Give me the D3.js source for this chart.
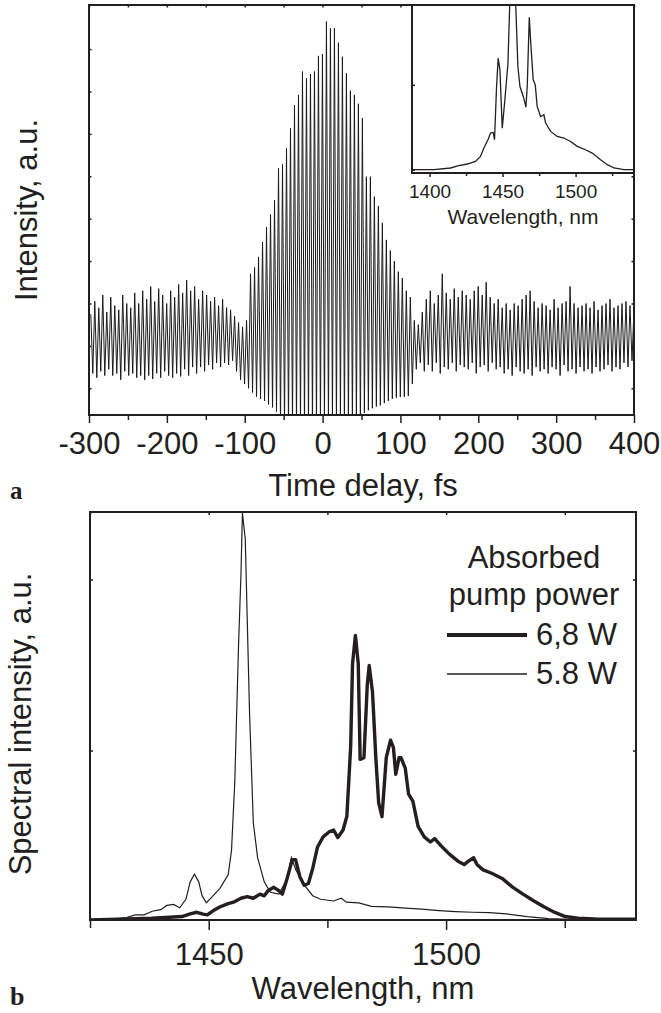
<!DOCTYPE html>
<html>
<head>
<meta charset="utf-8">
<script src="https://cdn.jsdelivr.net/npm/d3@7"></script>
<style>
  body { margin: 0; background: #fff; }
  text { font-family: "Liberation Sans", Arial, sans-serif; fill: #231f20; }
</style>
</head>
<body>
<div class="chart"></div>
<script>
// ---- panel a: interferometric autocorrelation (one max + one min per fringe) ----
var delayStart = -297.7;   // fs, first fringe maximum
var delayStep = 5.13;      // fs, fringe period
var fringeMax = [
  1.75, 2.05, 1.9, 2.2, 1.8, 2.15, 1.95, 1.85, 2.2, 2.0,
  1.9, 2.25, 2.0, 2.3, 2.1, 2.4, 2.05, 2.35, 2.2, 2.0,
  2.3, 2.15, 2.45, 2.25, 2.55, 2.3, 2.4, 2.1, 2.3, 2.2,
  2.05, 2.15, 1.95, 2.1, 1.9, 1.85, 1.7, 1.55, 1.45, 1.6,
  2.7, 2.85, 3.1, 3.45, 3.8, 4.1, 4.44, 5.19, 5.28, 5.66,
  6.13, 6.68, 6.92, 7.47, 7.31, 7.41, 7.47, 7.84, 7.88, 8.65,
  8.49, 8.49, 8.15, 7.82, 7.43, 7.02, 6.92, 6.71, 6.37, 4.99,
  4.99, 4.52, 4.3, 3.9, 3.5, 3.25, 3.0, 2.75, 2.6, 2.3,
  2.15, 1.6, 1.5, 1.8, 2.1, 2.3, 2.0, 2.2, 2.7, 2.25,
  2.1, 2.35, 2.15, 2.3, 2.2, 2.1, 2.3, 2.4, 2.2, 2.5,
  2.15, 2.0, 2.1, 1.9, 2.0, 1.85, 2.0, 1.95, 2.1, 2.2,
  2.3, 2.05, 1.9, 2.0, 1.95, 1.85, 2.1, 1.9, 2.0, 2.05,
  2.4, 2.0, 1.9, 1.95, 2.0, 1.9, 2.05, 1.85, 1.95, 2.0,
  2.1, 1.9, 1.95, 2.0, 2.05, 1.95, 1.85
];
var fringeMin = [
  0.35, 0.25, 0.4, 0.3, 0.45, 0.3, 0.35, 0.2, 0.4, 0.3,
  0.35, 0.25, 0.3, 0.2, 0.3, 0.22, 0.35, 0.25, 0.4, 0.3,
  0.25, 0.35, 0.28, 0.45, 0.3, 0.5, 0.35, 0.5, 0.4, 0.55,
  0.45, 0.6, 0.5, 0.6, 0.55, 0.65, 0.4, 0.2, 0.1, 0.0,
  -0.1, -0.2, -0.25, -0.3, -0.38, -0.45, -0.55, -0.9, -0.9, -0.9,
  -0.9, -0.9, -0.9, -0.9, -0.9, -0.9, -0.9, -0.9, -0.9, -0.9,
  -0.9, -0.9, -0.9, -0.9, -0.9, -0.9, -0.9, -0.9, -0.58, -0.52,
  -0.47, -0.43, -0.4, -0.35, -0.3, -0.25, -0.22, -0.2, -0.2, -0.18,
  0.1, 0.45, 0.6, 0.4, 0.55, 0.4, 0.6, 0.35, 0.5, 0.45,
  0.6, 0.4, 0.55, 0.5, 0.45, 0.6, 0.35, 0.5, 0.55, 0.4,
  0.6, 0.45, 0.5, 0.35, 0.45, 0.3, 0.5, 0.4, 0.35, 0.45,
  0.3, 0.5, 0.4, 0.45, 0.35, 0.5, 0.45, 0.3, 0.55, 0.4,
  0.45, 0.35, 0.5, 0.4, 0.45, 0.35, 0.5, 0.4, 0.45, 0.55,
  0.4, 0.5, 0.45, 0.6, 0.5, 0.65, 0.55
];
var delayTicks = [-300, -200, -100, 0, 100, 200, 300, 400];
var delayMinor = [-250, -150, -50, 50, 150, 250, 350];

// ---- inset: spectrum for panel a ----
var insetWl = [1388, 1403, 1414.4, 1420, 1425.8, 1431.5, 1434.9, 1437.2, 1440, 1441.8,
  1443.6, 1444.5, 1445.9, 1447, 1448.2, 1449.8, 1451.6, 1453.7, 1455, 1456,
  1458, 1458.9, 1460.5, 1461.9, 1464.2, 1466, 1466.9, 1468.3, 1469.6, 1471,
  1472.4, 1473.7, 1476, 1478.3, 1479.5, 1482.9, 1487.4, 1492, 1496.6, 1501.1,
  1506.8, 1511.4, 1517.1, 1521.7, 1526.3, 1533.1, 1540];
var insetI = [0.0, 0.0, 0.02, 0.047, 0.067, 0.098, 0.157, 0.255, 0.353, 0.431,
  0.439, 0.353, 0.98, 1.314, 1.176, 0.49, 0.824, 1.255, 2.0, 2.3,
  2.3, 2.0, 1.216, 0.98, 0.863, 0.737, 0.98, 1.796, 1.412, 1.059,
  1.0, 0.745, 0.627, 0.647, 0.549, 0.451, 0.392, 0.373, 0.333, 0.275,
  0.235, 0.196, 0.118, 0.059, 0.02, 0.0, 0.0];
var insetTicks = [1400, 1450, 1500];
var insetMinor = [1425, 1475, 1525];

// ---- panel b: spectra at two pump powers ----
var lowWl = [1425, 1429.3, 1432.8, 1434.6, 1436.4, 1438.1, 1439.9, 1441.2, 1442.6, 1443.9,
  1445.2, 1446.1, 1447, 1447.9, 1448.6, 1449.5, 1450.6, 1452.3, 1454.1, 1454.8,
  1455.5, 1456.3, 1456.8, 1457.1, 1457.7, 1458.6, 1459.4, 1460.3, 1461.7, 1463,
  1464.8, 1466.5, 1467.4, 1468.4, 1470.1, 1471.9, 1473.6, 1476.3, 1477.9, 1479,
  1481.6, 1484.3, 1487.8, 1491.4, 1494.9, 1498.5, 1502, 1505.6, 1509.1, 1512.7,
  1517.1, 1521.6, 1526, 1530.4, 1540];
var lowI = [0.01, 0.01, 0.025, 0.039, 0.039, 0.06, 0.069, 0.094, 0.1, 0.08,
  0.13, 0.232, 0.277, 0.232, 0.151, 0.11, 0.141, 0.191, 0.273, 0.414,
  0.819, 1.629, 2.034, 2.39, 2.237, 1.224, 0.576, 0.374, 0.232, 0.171,
  0.161, 0.25, 0.374, 0.3, 0.214, 0.151, 0.13, 0.12, 0.136, 0.113,
  0.109, 0.089, 0.085, 0.078, 0.072, 0.064, 0.058, 0.054, 0.052, 0.045,
  0.029, 0.017, 0.013, 0.011, 0.009];
var highWl = [1425, 1432.8, 1438.1, 1441.7, 1444.4, 1446.1, 1447.5, 1448.8, 1449.7, 1451,
  1452.3, 1454.1, 1455.4, 1456.8, 1458.1, 1459.4, 1460.8, 1461.7, 1462.5, 1463.7,
  1464.8, 1465.5, 1466.5, 1467.6, 1468.3, 1469.2, 1470.1, 1471, 1471.9, 1472.9,
  1474.1, 1475.4, 1476.3, 1477.2, 1478.3, 1479.1, 1479.9, 1480.3, 1480.9, 1481.5,
  1481.9, 1482.7, 1483.4, 1483.8, 1484.5, 1485.2, 1485.8, 1486.5, 1487.4, 1488.3,
  1488.9, 1489.4, 1490.1, 1490.5, 1491.4, 1492.1, 1493, 1494.1, 1495.4, 1496.7,
  1497.6, 1498.9, 1500.7, 1502.5, 1503.8, 1504.7, 1505.8, 1506.5, 1507.8, 1509.6,
  1511.8, 1514, 1516.2, 1518.5, 1520.7, 1522.9, 1525.1, 1527.8, 1532.2, 1540];
var highI = [0.009, 0.015, 0.019, 0.025, 0.029, 0.045, 0.054, 0.043, 0.039, 0.064,
  0.085, 0.105, 0.115, 0.136, 0.146, 0.136, 0.16, 0.15, 0.18, 0.2,
  0.18, 0.16, 0.25, 0.362, 0.362, 0.262, 0.212, 0.222, 0.31, 0.434,
  0.495, 0.525, 0.535, 0.491, 0.535, 0.616, 1.021, 1.508, 1.673, 1.508,
  0.948, 0.958, 1.384, 1.497, 1.343, 0.958, 0.694, 0.613, 0.958, 1.06,
  1.019, 0.861, 0.958, 0.958, 0.897, 0.745, 0.704, 0.556, 0.495, 0.465,
  0.485, 0.444, 0.394, 0.353, 0.333, 0.353, 0.373, 0.333, 0.302, 0.282,
  0.252, 0.201, 0.16, 0.12, 0.085, 0.053, 0.029, 0.019, 0.013, 0.013];
var wlTicks = [1450, 1500];
var wlMinor = [1425, 1475, 1525];
var legendLabels = ['6,8 W', '5.8 W'];

var ink = '#231f20';

var svg = d3.select('.chart').append('svg')
    .attr('width', 661)
    .attr('height', 1013)
    .style('background', '#fff');

// frames in page pixels
var frameA = {left: 89, top: 5, right: 634, bottom: 415};
var frameI = {left: 412, top: 5, right: 634, bottom: 173};
var frameB = {left: 90, top: 512, right: 636, bottom: 920};

var x = d3.scaleLinear().domain([-300, 400]).range([frameA.left, frameA.right]);
var y = d3.scaleLinear().domain([-0.63, 9.04]).range([frameA.bottom, frameA.top]);
var xi = d3.scaleLinear().domain([1388, 1540]).range([frameI.left, frameI.right]);
var yi = d3.scaleLinear().domain([-0.039, 1.941]).range([frameI.bottom, frameI.top]);
var xb = d3.scaleLinear().domain([1425, 1540]).range([frameB.left, frameB.right]);
var yb = d3.scaleLinear().domain([0.0088, 2.395]).range([frameB.bottom, frameB.top]);

function clip(id, f) {
  svg.append('clipPath').attr('id', id)
    .append('rect')
      .attr('x', f.left).attr('y', f.top)
      .attr('width', f.right - f.left).attr('height', f.bottom - f.top);
  return 'url(#' + id + ')';
}

function frame(f, fill) {
  svg.append('rect')
    .attr('x', f.left).attr('y', f.top)
    .attr('width', f.right - f.left).attr('height', f.bottom - f.top)
    .attr('fill', fill || 'none')
    .attr('stroke', ink)
    .attr('stroke-width', 2);
}

function addAxis(axis, tx, ty, size) {
  var g = svg.append('g')
      .attr('transform', `translate(${tx},${ty})`)
      .call(axis);
  g.select('.domain').remove();
  g.attr('font-family', null).attr('font-size', null);
  g.selectAll('line').attr('stroke', ink).attr('stroke-width', 1.5);
  g.selectAll('text').style('font-size', (size || 31) + 'px').attr('fill', ink);
  return g;
}

/*
 * Panel a
 */
var trace = [];
fringeMax.forEach(function(v, k) {
  var t = delayStart + k * delayStep;
  trace.push({t: t, v: v});
  trace.push({t: t + delayStep / 2, v: fringeMin[k]});
});

var traceLine = d3.line()
  .x(d => x(d.t))
  .y(d => y(d.v));

svg.append('path')
  .datum(trace)
  .attr('clip-path', clip('clipA', frameA))
  .attr('d', traceLine)
  .attr('fill', 'none')
  .attr('stroke', '#1a1a1a')
  .attr('stroke-width', 1);

frame(frameA);

addAxis(d3.axisBottom(x).tickValues(delayTicks).tickSize(8).tickPadding(9)
  .tickFormat(d => d), 0, frameA.bottom);
addAxis(d3.axisBottom(x).tickValues(delayMinor).tickSize(5).tickFormat(''), 0, frameA.bottom);
addAxis(d3.axisTop(x).tickValues(delayTicks.concat(delayMinor)).tickSize(-2.5).tickFormat(''), 0, frameA.top);
addAxis(d3.axisLeft(y).tickValues(d3.range(0, 9)).tickSize(-2.5).tickFormat(''), frameA.left, 0);
addAxis(d3.axisRight(y).tickValues(d3.range(0, 9)).tickSize(-2.5).tickFormat(''), frameA.right, 0);

svg.append('text')
  .attr('x', 363).attr('y', 496)
  .attr('text-anchor', 'middle')
  .style('font-size', '31px')
  .text('Time delay, fs');

svg.append('text')
  .attr('transform', 'translate(37,210) rotate(-90)')
  .attr('text-anchor', 'middle')
  .style('font-size', '31px')
  .text('Intensity, a.u.');

svg.append('text')
  .attr('x', 10).attr('y', 499)
  .style('font-family', '"Liberation Serif", "DejaVu Serif", serif')
  .style('font-weight', 'bold')
  .style('font-size', '25px')
  .text('a');

// inset
frame(frameI, '#fff');

var insetLine = d3.line()
  .x((d, i) => xi(insetWl[i]))
  .y(d => yi(d));

svg.append('path')
  .datum(insetI)
  .attr('clip-path', clip('clipI', frameI))
  .attr('d', insetLine)
  .attr('fill', 'none')
  .attr('stroke', ink)
  .attr('stroke-width', 1.3);

frame(frameI);

addAxis(d3.axisBottom(xi).tickValues(insetTicks).tickSize(4).tickPadding(8)
  .tickFormat(d => d), 0, frameI.bottom, 19);
addAxis(d3.axisBottom(xi).tickValues(insetMinor).tickSize(3).tickFormat(''), 0, frameI.bottom);
addAxis(d3.axisLeft(yi).tickValues([0, 1]).tickSize(-3).tickFormat(''), frameI.left, 0);

svg.append('text')
  .attr('x', 523).attr('y', 224)
  .attr('text-anchor', 'middle')
  .style('font-size', '21px')
  .text('Wavelength, nm');

/*
 * Panel b
 */
var clipB = clip('clipB', frameB);

function wlLine(wl) {
  return d3.line()
    .x((d, i) => xb(wl[i]))
    .y(d => yb(d));
}

svg.append('path')
  .datum(lowI)
  .attr('clip-path', clipB)
  .attr('d', wlLine(lowWl))
  .attr('fill', 'none')
  .attr('stroke', ink)
  .attr('stroke-width', 1.2);

svg.append('path')
  .datum(highI)
  .attr('clip-path', clipB)
  .attr('d', wlLine(highWl))
  .attr('fill', 'none')
  .attr('stroke', ink)
  .attr('stroke-width', 3.4)
  .attr('stroke-linejoin', 'round');

frame(frameB);

addAxis(d3.axisBottom(xb).tickValues(wlTicks).tickSize(10).tickPadding(13)
  .tickFormat(d => d), 0, frameB.bottom);
addAxis(d3.axisBottom(xb).tickValues(wlMinor).tickSize(8).tickFormat(''), 0, frameB.bottom);
addAxis(d3.axisTop(xb).tickValues(wlTicks.concat(wlMinor)).tickSize(-3).tickFormat(''), 0, frameB.top);
addAxis(d3.axisLeft(yb).tickValues([1, 2]).tickSize(-3).tickFormat(''), frameB.left, 0);
addAxis(d3.axisRight(yb).tickValues([1, 2]).tickSize(-3).tickFormat(''), frameB.right, 0);

svg.append('text')
  .attr('x', 363).attr('y', 999)
  .attr('text-anchor', 'middle')
  .style('font-size', '31px')
  .text('Wavelength, nm');

svg.append('text')
  .attr('transform', 'translate(31,724) rotate(-90)')
  .attr('text-anchor', 'middle')
  .style('font-size', '31px')
  .text('Spectral intensity, a.u.');

svg.append('text')
  .attr('x', 10).attr('y', 1005)
  .style('font-family', '"Liberation Serif", "DejaVu Serif", serif')
  .style('font-weight', 'bold')
  .style('font-size', '26px')
  .text('b');

// legend
var legend = svg.append('g');
legend.append('text')
  .attr('x', 534).attr('y', 568)
  .attr('text-anchor', 'middle')
  .style('font-size', '31px')
  .text('Absorbed');
legend.append('text')
  .attr('x', 534).attr('y', 605)
  .attr('text-anchor', 'middle')
  .style('font-size', '31px')
  .text('pump power');

var legendRows = legend.selectAll('.row')
  .data(legendLabels)
  .enter().append('g')
    .attr('class', 'row')
    .attr('transform', (d, i) => `translate(0, ${[635, 674][i]})`);

legendRows.append('line')
  .attr('x1', 447).attr('x2', 527)
  .attr('stroke', ink)
  .attr('stroke-width', (d, i) => i === 0 ? 4 : 1.3);

legendRows.append('text')
  .attr('x', 536).attr('y', 10)
  .style('font-size', '31px')
  .text(d => d);
</script>
</body>
</html>
